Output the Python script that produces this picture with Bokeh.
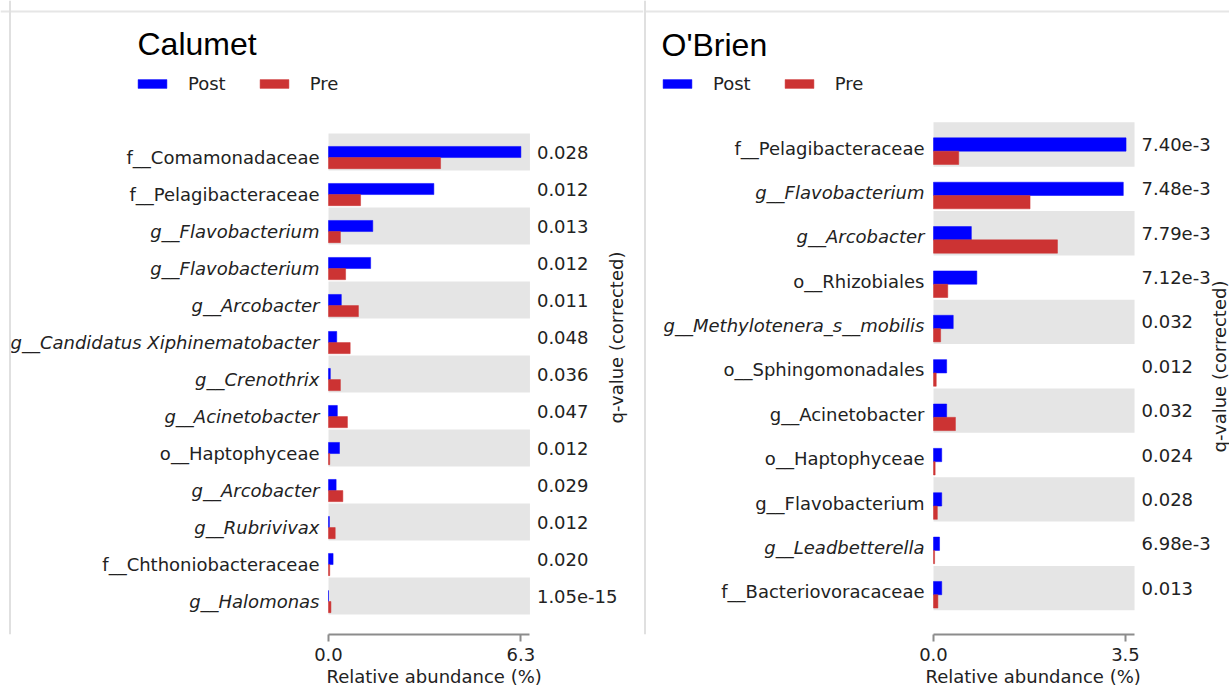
import numpy as np
from bokeh.plotting import figure
from bokeh.models import (Range1d, FixedTicker, PrintfTickFormatter, Legend,
                          LegendItem, Label, Span, ColumnDataSource, Title)
from bokeh.layouts import row
from bokeh.embed import file_html
from bokeh.resources import INLINE
from bokeh.core.properties import value

# ---------------- data ----------------
cal_taxa = ["f__Comamonadaceae", "f__Pelagibacteraceae", "g__Flavobacterium",
            "g__Flavobacterium", "g__Arcobacter", "g__Candidatus Xiphinematobacter",
            "g__Crenothrix", "g__Acinetobacter", "o__Haptophyceae", "g__Arcobacter",
            "g__Rubrivivax", "f__Chthoniobacteraceae", "g__Halomonas"]
cal_post = [6.30, 3.45, 1.45, 1.38, 0.42, 0.27, 0.06, 0.29, 0.36, 0.25, 0.03, 0.15, 0.0]
cal_pre = [3.67, 1.05, 0.39, 0.56, 0.98, 0.71, 0.39, 0.62, 0.04, 0.47, 0.22, 0.04, 0.08]
cal_q = ["0.028", "0.012", "0.013", "0.012", "0.011", "0.048", "0.036", "0.047",
         "0.012", "0.029", "0.012", "0.020", "1.05e-15"]
cal_ticks = [0.0, 6.3]
cal_italic_rows = [2, 3, 4, 5, 6, 7, 9, 10, 12]

obr_taxa = ["f__Pelagibacteraceae", "g__Flavobacterium", "g__Arcobacter",
            "o__Rhizobiales", "g__Methylotenera_s__mobilis", "o__Sphingomonadales",
            "g__Acinetobacter", "o__Haptophyceae", "g__Flavobacterium",
            "g__Leadbetterella", "f__Bacteriovoracaceae"]
obr_post = [3.51, 3.46, 0.69, 0.79, 0.36, 0.24, 0.24, 0.15, 0.15, 0.11, 0.15]
obr_pre = [0.46, 1.76, 2.26, 0.26, 0.13, 0.05, 0.40, 0.03, 0.07, 0.02, 0.08]
obr_q = ["7.40e-3", "7.48e-3", "7.79e-3", "7.12e-3", "0.032", "0.012", "0.032",
         "0.024", "0.028", "6.98e-3", "0.013"]
obr_ticks = [0.0, 3.5]
obr_italic_rows = [1, 2, 4, 9]

groups = ["Post", "Pre"]

# ---------------- style ----------------
POST_COLOR = "#0000FF"
PRE_COLOR = "#CC3333"
BAND_COLOR = "#E5E5E5"
TEXT_COLOR = "#222222"
FONT = "DejaVu Sans"
TITLE_FONT = "Liberation Sans"
FS = "18px"

FIG_H = 690
FRAME_TOP = 0
FRAME_BOTTOM = 634
AXIS_H = FIG_H - (FRAME_BOTTOM - FRAME_TOP)
BAR_H = 0.3


def panel(title, taxa, post, pre, qv, ticks, italic_rows, fig_left, fig_w,
          zero_px, ppu, row0_px, row_h, title_px, legend_px, qlab_px, border_x,
          label_dy, xlabel_left):
    def X(px):
        return (px - zero_px) / ppu

    def Y(py):
        return -(py - row0_px) / row_h

    x0, x1 = X(fig_left), X(fig_left + fig_w)
    ytop, ybot = Y(FRAME_TOP), Y(FRAME_BOTTOM)
    p = figure(width=fig_w, height=FIG_H, x_range=Range1d(x0, x1),
               y_range=Range1d(ybot, ytop), output_backend="svg",
               toolbar_location=None, min_border_left=0, min_border_right=0,
               min_border_top=0, min_border_bottom=AXIS_H,
               x_axis_location="below", y_axis_location=None,
               outline_line_color=None, background_fill_color="white",
               border_fill_color="white")
    p.xgrid.visible = False
    p.ygrid.visible = False

    n = len(taxa)
    ys = [-i for i in range(n)]
    xmax = ticks[-1] * 1.047

    # alternating bands
    band_y = [ys[i] for i in range(0, n, 2)]
    p.hbar(y=band_y, height=1.0, left=0, right=xmax, fill_color=BAND_COLOR,
           line_color=None)

    r_post = p.hbar(y=ys, height=BAR_H, left=0, right=post, fill_color=POST_COLOR,
                    line_color=POST_COLOR, line_width=0.5)
    r_pre = p.hbar(y=[y - BAR_H for y in ys], height=BAR_H, left=0, right=pre,
                   fill_color=PRE_COLOR, line_color=PRE_COLOR, line_width=0.5)

    styles = ["italic" if i in italic_rows else "normal" for i in range(n)]
    src = ColumnDataSource(dict(y=[y - BAR_H / 2 for y in ys], text=taxa, st=styles))
    p.text(x=0, y="y", text="text", source=src, x_offset=-9, y_offset=label_dy,
           text_align="right", text_baseline="middle", text_font=value(FONT),
           text_font_size=FS, text_font_style="st", text_color=TEXT_COLOR)

    p.text(x=xmax, y=ys, text=qv, x_offset=7, text_align="left",
           text_baseline="middle", text_font=value(FONT), text_font_size=FS,
           text_color=TEXT_COLOR)

    ax = p.xaxis[0]
    ax.ticker = FixedTicker(ticks=ticks)
    ax.formatter = PrintfTickFormatter(format="%.1f")
    ax.bounds = (0, xmax)
    ax.axis_line_color = "#8c8c8c"
    ax.axis_line_width = 2
    ax.major_tick_line_color = "#8c8c8c"
    ax.major_tick_line_width = 2
    ax.major_tick_in = 0
    ax.major_tick_out = 7
    ax.minor_tick_in = 0
    ax.minor_tick_out = 0
    ax.major_label_standoff = 6
    ax.major_label_text_font = FONT
    ax.major_label_text_font_size = FS
    ax.major_label_text_color = TEXT_COLOR

    # axis title placed under the bounded axis line
    p.add_layout(Title(text="Relative abundance (%)", align="left",
                       offset=xlabel_left - fig_left, standoff=0,
                       text_font=FONT, text_font_size=FS, text_font_style="normal",
                       text_color=TEXT_COLOR), "below")

    p.add_layout(Label(x=X(title_px[0]), y=Y(title_px[1]), text=title,
                       text_font=TITLE_FONT, text_font_size="32px",
                       text_baseline="alphabetic", text_align="left",
                       text_color="black"))

    p.add_layout(Label(x=X(qlab_px[0]), y=Y(qlab_px[1]), text="q-value (corrected)",
                       angle=np.pi / 2, text_font=FONT, text_font_size=FS,
                       text_align="center", text_baseline="middle",
                       text_color=TEXT_COLOR))

    legend = Legend(items=[LegendItem(label=groups[0], renderers=[r_post]),
                           LegendItem(label=groups[1], renderers=[r_pre])],
                    location=(legend_px[0] - fig_left, FRAME_BOTTOM - (legend_px[1] + 10)),
                    orientation="horizontal", glyph_width=36, glyph_height=11,
                    label_standoff=18, spacing=30, padding=0, margin=0,
                    border_line_color=None, background_fill_alpha=0,
                    label_text_font=FONT, label_text_font_size=FS,
                    label_text_color=TEXT_COLOR, label_height=20)
    p.add_layout(legend)

    p.add_layout(Span(location=Y(11), dimension="width", line_color="#e6e6e6",
                      line_width=2))
    p.add_layout(Span(location=X(border_x), dimension="height", line_color="#e0e0e0",
                      line_width=2))
    return p


p1 = panel("Calumet", cal_taxa, cal_post, cal_pre, cal_q, cal_ticks, cal_italic_rows,
           fig_left=0, fig_w=643, zero_px=328, ppu=(520.4 - 328) / 6.3,
           row0_px=151.5, row_h=37.0, title_px=(137, 43), legend_px=(134, 84),
           qlab_px=(616, 337), border_x=9.5, label_dy=0, xlabel_left=326)
p2 = panel("O'Brien", obr_taxa, obr_post, obr_pre, obr_q, obr_ticks, obr_italic_rows,
           fig_left=643, fig_w=586, zero_px=933, ppu=(1125 - 933) / 3.5,
           row0_px=144.0, row_h=44.36, title_px=(661, 44), legend_px=(659, 84),
           qlab_px=(1219, 366), border_x=644.5, label_dy=-3, xlabel_left=925)

layout = row(p1, p2)
open("out.html", "w").write(file_html(layout, INLINE))
